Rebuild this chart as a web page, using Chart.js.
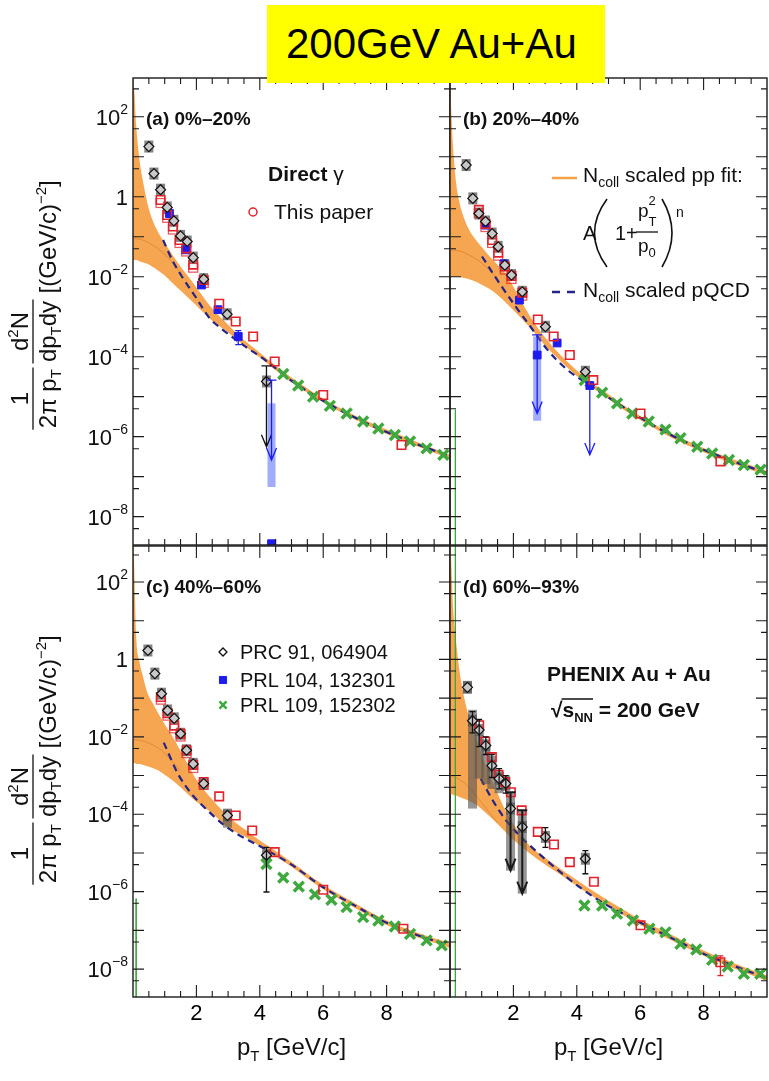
<!DOCTYPE html>
<html>
<head>
<meta charset="utf-8">
<script src="https://cdn.jsdelivr.net/npm/chart.js@4.4.1/dist/chart.umd.min.js"></script>
<style>
  body { margin: 0; background: #fff; }
  #wrap { position: relative; width: 769px; height: 1081px; overflow: hidden; background: #fff; }
  canvas { position: absolute; }
  #title {
    position: absolute; left: 267px; top: 5px; width: 338px; height: 78px;
    background: #ffff00; color: #000; z-index: 5; box-sizing: border-box; padding-left: 19px;
    font-family: "Liberation Sans", Arial, sans-serif; font-size: 42px; line-height: 78px;
  }
</style>
</head>
<body>
<div id="wrap">
  <canvas id="pa" width="451" height="486" style="left:0;top:60px"></canvas>
  <canvas id="pb" width="320" height="486" style="left:449px;top:60px"></canvas>
  <canvas id="pc" width="451" height="541" style="left:0;top:540px"></canvas>
  <canvas id="pd" width="320" height="541" style="left:449px;top:540px"></canvas>
  <div id="title">200GeV Au+Au</div>
</div>
<script>
// ---------- axes ----------
const xTickVals = [2, 4, 6, 8];
const yTickVals = [1e-8, 1e-6, 1e-4, 1e-2, 1, 1e2];
const yTickMant = ['10', '10', '10', '10', '1', '10'];
const yTickExp = ['\u22128', '\u22126', '\u22124', '\u22122', '', '2'];

// ---------- Ncoll scaled pp fit band (shared pT grid) ----------
const bandPt = [0, 0.02, 0.05, 0.1, 0.2, 0.3, 0.45, 0.6, 0.8, 1.0, 1.25, 1.5, 1.75, 2.0, 2.5, 3.0, 3.5, 4.0, 4.5, 5.0, 5.5, 6.0, 7.0, 8.0, 9.0, 10.0];
const bandHiA = [1e4, 1e3, 350, 62, 9.1, 2.8, 0.71, 0.28, 0.126, 7.1e-2, 3.5e-2, 1.8e-2, 1.0e-2, 5.4e-3, 1.6e-3, 6.3e-4, 2.6e-4, 1.26e-4, 6.0e-5, 3.0e-5, 1.6e-5, 8.9e-6, 3.4e-6, 1.5e-6, 7.1e-7, 3.5e-7];
const bandLoA = [2.6e-2, 2.6e-2, 2.6e-2, 2.6e-2, 2.45e-2, 2.3e-2, 2.1e-2, 1.8e-2, 1.4e-2, 1.07e-2, 6.9e-3, 4.5e-3, 2.95e-3, 1.9e-3, 7.9e-4, 4.0e-4, 1.9e-4, 9.5e-5, 4.6e-5, 2.3e-5, 1.26e-5, 7.1e-6, 2.7e-6, 1.17e-6, 5.6e-7, 2.8e-7];
const bandHiB = [1e4, 630, 100, 16, 2.0, 0.71, 0.28, 0.15, 8.7e-2, 5.5e-2, 3.2e-2, 2.0e-2, 1.2e-2, 5.6e-3, 1.1e-3, 3.0e-4, 1.07e-4, 4.5e-5, 2.2e-5, 1.15e-5, 5.9e-6, 3.3e-6, 1.2e-6, 5.2e-7, 2.6e-7, 1.38e-7];
const bandLoB = [1.0e-2, 1.0e-2, 1.0e-2, 1.0e-2, 1.0e-2, 9.8e-3, 9.3e-3, 8.7e-3, 7.6e-3, 6.3e-3, 4.9e-3, 3.5e-3, 2.3e-3, 1.45e-3, 5.6e-4, 1.9e-4, 7.6e-5, 3.3e-5, 1.66e-5, 8.7e-6, 4.6e-6, 2.6e-6, 9.3e-7, 4.1e-7, 2.0e-7, 1.07e-7];
const bandHiC = [1e4, 1e3, 100, 4.0, 0.89, 0.4, 0.14, 7.9e-2, 4.0e-2, 2.1e-2, 1.0e-2, 4.3e-3, 1.8e-3, 7.9e-4, 2.4e-4, 8.9e-5, 4.2e-5, 2.1e-5, 1.12e-5, 5.8e-6, 2.9e-6, 1.5e-6, 5.0e-7, 1.8e-7, 8.5e-8, 4.7e-8];
const bandLoC = [2.1e-3, 2.1e-3, 2.1e-3, 2.0e-3, 2.0e-3, 1.9e-3, 1.75e-3, 1.6e-3, 1.35e-3, 1.05e-3, 7.4e-4, 5.0e-4, 3.2e-4, 2.1e-4, 1.05e-4, 4.5e-5, 2.75e-5, 1.5e-5, 8.1e-6, 4.4e-6, 2.2e-6, 1.15e-6, 3.8e-7, 1.38e-7, 6.5e-8, 3.5e-8];
const bandHiD = [1e4, 1e3, 200, 20, 2.5, 0.5, 0.1, 3.2e-2, 1.05e-2, 3.5e-3, 1.0e-3, 3.5e-4, 1.26e-4, 5.6e-5, 1.58e-5, 7.6e-6, 3.8e-6, 2.0e-6, 1.05e-6, 5.8e-7, 3.3e-7, 1.9e-7, 7.6e-8, 3.0e-8, 1.38e-8, 6.8e-9];
const bandLoD = [3.3e-4, 3.3e-4, 3.3e-4, 3.2e-4, 3.0e-4, 2.8e-4, 2.5e-4, 2.2e-4, 1.8e-4, 1.35e-4, 8.9e-5, 5.6e-5, 3.5e-5, 2.2e-5, 1.0e-5, 5.0e-6, 2.7e-6, 1.4e-6, 7.6e-7, 4.2e-7, 2.4e-7, 1.38e-7, 5.5e-8, 2.2e-8, 1.0e-8, 4.9e-9];
// darker central line inside the band at low pT
const midPt = [0, 0.3, 0.6, 0.9, 1.2, 1.5];
const midA = [9.1e-2, 8.3e-2, 6.3e-2, 4.3e-2, 2.5e-2, 1.26e-2];
const midB = [4.7e-2, 4.4e-2, 3.5e-2, 2.5e-2, 1.6e-2, 8.9e-3];
const midC = [8.5e-3, 7.9e-3, 6.3e-3, 4.5e-3, 2.5e-3, 1.3e-3];
const midD = [1.0e-3, 7.9e-4, 5.0e-4, 2.5e-4, 1.2e-4, 6.0e-5];

// ---------- Ncoll scaled pQCD ----------
const pqcdPtA = [0.95, 1.26, 1.58, 2.0, 2.42, 2.79, 3.5, 4.2, 5, 6, 7, 8, 9, 10];
const pqcdA = [8.3e-2, 2.4e-2, 9.1e-3, 2.9e-3, 9.1e-4, 5.0e-4, 1.9e-4, 7.9e-5, 2.5e-5, 7.9e-6, 3.0e-6, 1.3e-6, 6.3e-7, 3.2e-7];
const pqcdPtB = [1.01, 1.49, 2.01, 2.54, 3.07, 3.7, 4.22, 5, 6, 7, 8, 9, 10];
const pqcdB = [3.2e-2, 8.3e-3, 2.1e-3, 5.6e-4, 1.5e-4, 4.7e-5, 2.4e-5, 9.5e-6, 3.0e-6, 1.07e-6, 4.7e-7, 2.3e-7, 1.23e-7];
const pqcdPtC = [0.97, 1.42, 1.84, 2.1, 2.95, 4.21, 5, 6, 7, 8, 9, 10];
const pqcdC = [7.1e-3, 1.1e-3, 3.4e-4, 2.0e-4, 4.7e-5, 1.2e-5, 5.0e-6, 1.3e-6, 4.35e-7, 1.57e-7, 7.4e-8, 4.05e-8];
const pqcdPtD = [0.97, 1.39, 1.81, 2.85, 4.54, 6, 7, 8, 9, 10];
const pqcdD = [8.3e-4, 2.0e-4, 6.3e-5, 8.9e-6, 7.2e-7, 1.6e-7, 6.3e-8, 2.5e-8, 1.17e-8, 5.8e-9];

// ---------- PRC 91, 064904 (black diamonds) ----------
const blackPtA = [0.5, 0.66, 0.87, 1.08, 1.29, 1.5, 1.71, 1.9, 2.23, 2.97, 4.21];
const blackA = [18, 3.8, 1.5, 0.54, 0.25, 0.105, 7.6e-2, 3.0e-2, 8.7e-3, 1.15e-3, 2.4e-5];
const blackPtB = [0.51, 0.72, 0.91, 1.12, 1.33, 1.52, 1.73, 1.94, 2.28, 3.01, 4.27];
const blackB = [6.2, 0.91, 0.38, 0.24, 0.12, 5.6e-2, 1.95e-2, 1.1e-2, 4.2e-3, 5.6e-4, 4.2e-5];
const blackPtC = [0.47, 0.69, 0.9, 1.09, 1.3, 1.5, 1.69, 1.9, 2.23, 2.98, 4.21];
const blackC = [1.7, 0.43, 0.13, 4.8e-2, 3.0e-2, 1.2e-2, 4.5e-3, 2.0e-3, 6.2e-4, 9.3e-5, 8.7e-6];
const blackPtD = [0.55, 0.71, 0.92, 1.13, 1.32, 1.55, 1.76, 1.91, 2.28, 3.01, 4.27];
const blackD = [0.19, 2.6e-2, 1.5e-2, 6.0e-3, 1.8e-3, 8.3e-4, 6.2e-4, 1.4e-4, 4.7e-5, 2.6e-5, 7.1e-6];

// ---------- This paper (red open squares) ----------
const redPtA = [0.87, 1.08, 1.26, 1.47, 1.68, 1.9, 2.23, 2.72, 3.24, 3.79, 4.47, 6.0, 8.47];
const redA = [0.83, 0.35, 0.18, 8.3e-2, 5.1e-2, 2.0e-2, 8.3e-3, 2.1e-3, 7.6e-4, 3.2e-4, 7.6e-5, 1.1e-5, 6.2e-7];
const redPtB = [0.91, 1.12, 1.33, 1.52, 1.73, 1.94, 2.28, 2.77, 3.27, 3.78, 4.52, 6.01, 8.53];
const redB = [0.47, 0.21, 8.3e-2, 4.0e-2, 1.8e-2, 1.05e-2, 4.0e-3, 8.5e-4, 3.2e-4, 1.1e-4, 2.6e-5, 3.8e-6, 2.4e-7];
const redPtC = [0.88, 1.09, 1.3, 1.5, 1.69, 1.9, 2.23, 2.72, 3.24, 3.76, 4.47, 6.0, 8.53];
const redC = [0.107, 4.1e-2, 1.95e-2, 1.2e-2, 4.5e-3, 1.9e-3, 6.8e-4, 2.9e-4, 9.3e-5, 3.8e-5, 1.05e-5, 1.12e-6, 1.1e-7];
const redPtD = [0.92, 1.11, 1.32, 1.53, 1.73, 1.92, 2.26, 2.77, 3.28, 3.78, 4.54, 6.01, 8.53];
const redD = [2.0e-2, 7.6e-3, 3.0e-3, 1.05e-3, 6.8e-4, 3.7e-4, 1.26e-4, 3.5e-5, 1.66e-5, 5.8e-6, 1.8e-6, 1.35e-7, 1.5e-8];
// systematic boxes of the low-pT red points [pT, high, low]
const redSysA = [[0.87, 0.9, 0.54], [1.08, 0.38, 0.23], [1.26, 0.195, 0.117], [1.47, 9.0e-2, 5.4e-2], [1.68, 5.5e-2, 3.3e-2], [1.9, 2.15e-2, 1.3e-2], [2.23, 9.0e-3, 5.4e-3]];
const redSysB = [[0.91, 0.5, 0.3], [1.12, 0.23, 0.135], [1.33, 9.0e-2, 5.4e-2], [1.52, 4.3e-2, 2.6e-2], [1.73, 1.95e-2, 1.17e-2], [1.94, 1.13e-2, 6.8e-3], [2.28, 4.3e-3, 2.6e-3]];
const redSysC = [[0.88, 0.115, 0.07], [1.09, 4.4e-2, 2.7e-2], [1.3, 2.1e-2, 1.27e-2], [1.5, 1.3e-2, 7.8e-3], [1.69, 4.8e-3, 2.9e-3], [1.9, 2.0e-3, 1.2e-3], [2.23, 7.3e-4, 4.4e-4]];

// ---------- PRL 104, 132301 (blue squares) ----------
const bluePtA = [1.15, 1.66, 2.16, 2.68, 3.32, 4.37];
const blueA = [0.38, 4.7e-2, 6.2e-3, 1.5e-3, 3.2e-4, 2.1e-9];
const bluePtB = [1.12, 1.7, 2.19, 2.75, 3.38, 4.41];
const blueB = [0.195, 2.1e-2, 2.6e-3, 1.1e-4, 2.2e-4, 1.9e-5];

// ---------- PRL 109, 152302 (green crosses) ----------
const greenPtA = [4.74, 5.21, 5.68, 6.21, 6.74, 7.26, 7.74, 8.26, 8.74, 9.26, 9.79];
const greenA = [3.7e-5, 1.9e-5, 1.0e-5, 5.9e-6, 3.8e-6, 2.4e-6, 1.6e-6, 1.1e-6, 7.6e-7, 5.1e-7, 3.5e-7];
const greenPtB = [4.25, 4.8, 5.27, 5.75, 6.27, 6.8, 7.27, 7.8, 8.27, 8.8, 9.27, 9.8];
const greenB = [2.6e-5, 1.26e-5, 6.8e-6, 3.8e-6, 2.4e-6, 1.5e-6, 9.1e-7, 5.6e-7, 3.8e-7, 2.6e-7, 1.95e-7, 1.5e-7];
const greenPtC = [4.21, 4.74, 5.23, 5.74, 6.26, 6.74, 7.26, 7.74, 8.26, 8.74, 9.26, 9.74];
const greenC = [5.2e-6, 2.3e-6, 1.35e-6, 8.5e-7, 6.2e-7, 4.0e-7, 2.2e-7, 1.8e-7, 1.26e-7, 8.1e-8, 5.5e-8, 4.1e-8];
const greenPtD = [4.24, 4.8, 5.27, 5.77, 6.29, 6.8, 7.27, 7.77, 8.27, 8.76, 9.27, 9.79];
const greenD = [4.4e-7, 4.4e-7, 2.7e-7, 1.8e-7, 1.1e-7, 8.9e-8, 4.5e-8, 3.2e-8, 1.74e-8, 1.17e-8, 7.6e-9, 7.6e-9];
// stray green error bar near pT ~ 0: [pT, top]
const greenLineB = [0.17, 4.7e-6];
const greenLineC = [0.1, 6.6e-7];
const greenLineD = [0.17, 1e3];

// ---------- error bars [pT, high, low], upper limits [pT, from, to] ----------
const blueErrA = [[3.32, 4.5e-4, 2.0e-4]];
const blackLimitA = [[4.21, 5.9e-5, 5.6e-7]];
const blueLimitA = [[4.37, 2.6e-5, 2.6e-7]];
const blueBandA = [[4.37, 6.8e-6, 5.5e-8]];
const blueLimitB = [[2.75, 3.5e-4, 3.8e-6], [4.41, 1.9e-5, 3.5e-7]];
const blueBandB = [[2.75, 3.2e-4, 2.5e-6]];
const blackErrC = [[4.21, 1.4e-5, 9.8e-7]];
const grayBoxC = [[2.98, 1.4e-4, 4.5e-5]];
const blackErrD = [[0.71, 4.5e-2, 1.26e-2], [0.92, 2.8e-2, 5.6e-3], [1.13, 1.0e-2, 3.5e-3], [1.32, 3.5e-3, 8.9e-4], [1.55, 1.5e-3, 4.5e-4], [1.76, 1.0e-3, 3.5e-4], [3.01, 4.5e-5, 1.4e-5], [4.27, 1.15e-5, 2.9e-6]];
const blackLimitD = [[1.91, 3.7e-4, 3.5e-6], [2.28, 1.26e-4, 8.9e-7]];
const grayBoxD = [[0.55, 0.28, 0.13], [0.71, 5.0e-2, 1.4e-4], [0.92, 1.1e-2, 8.3e-4], [1.13, 6.0e-3, 6.0e-4], [1.32, 3.2e-3, 4.5e-4], [1.55, 1.3e-3, 3.5e-4], [1.76, 1.0e-3, 4.0e-4], [1.91, 3.7e-4, 3.5e-6], [2.28, 1.26e-4, 8.9e-7]];
const redErrD = [[8.53, 2.2e-8, 6.8e-9]];

// ---------- styling ----------
const FAM = '"Liberation Sans", Arial, Helvetica, sans-serif';
const ORANGE = 'rgba(246,160,72,0.95)';
const NAVY = '#24248a';
const RED = '#e3232c';
const BLUE = '#1c1cf0';
const GREEN = '#3fa83f';
const INK = '#111';

function pts(xs, ys) { return xs.map((x, i) => ({ x: x, y: ys[i] })); }

function run(ctx, x, y, parts, draw) {
  let cx = x;
  for (const p of parts) {
    ctx.font = (p[3] ? 'bold ' : '') + p[1] + 'px ' + FAM;
    if (draw !== false) ctx.fillText(p[0], cx, y + (p[2] || 0));
    cx += ctx.measureText(p[0]).width;
  }
  return cx - x;
}

function marker(ctx, style, x, y, r, stroke, fill, lw) {
  ctx.save();
  ctx.strokeStyle = stroke; ctx.fillStyle = fill; ctx.lineWidth = lw;
  Chart.helpers.drawPoint(ctx, { pointStyle: style, radius: r, rotation: 0, borderWidth: lw }, x, y);
  ctx.restore();
}

function paren(ctx, x0, yTop, yBot, bulge) {
  ctx.beginPath();
  ctx.moveTo(x0, yTop);
  ctx.quadraticCurveTo(x0 + bulge, (yTop + yBot) / 2, x0, yBot);
  ctx.stroke();
}

// ---------- per panel text ----------
function textA(ctx, a) {
  ctx.fillStyle = INK;
  run(ctx, a.left + 135, a.top + 103, [['Direct', 21, 0, true], [' \u03b3', 21]]);
  ctx.strokeStyle = RED; ctx.lineWidth = 1.5;
  ctx.beginPath(); ctx.arc(a.left + 120, a.top + 134, 4, 0, Math.PI * 2); ctx.stroke();
  run(ctx, a.left + 141, a.top + 141, [['This paper', 21]]);
}

function textB(ctx, a) {
  const L = a.left, T = a.top;
  ctx.fillStyle = INK;
  ctx.strokeStyle = 'rgb(246,160,72)'; ctx.lineWidth = 2.5;
  ctx.beginPath(); ctx.moveTo(L + 102, T + 100); ctx.lineTo(L + 127, T + 100); ctx.stroke();
  run(ctx, L + 133, T + 104, [['N', 21], ['coll', 14, 5], [' scaled pp fit:', 21]]);
  // A (1 + pT^2/p0)^n
  run(ctx, L + 133, T + 162, [['A', 20]]);
  ctx.strokeStyle = INK; ctx.lineWidth = 1.6;
  paren(ctx, L + 157, T + 121, T + 189, -25);
  run(ctx, L + 165, T + 162, [['1+', 20]]);
  const wp = run(ctx, L + 188, T + 139, [['p', 19]]);
  run(ctx, L + 188 + wp, T + 127, [['2', 13]]);
  run(ctx, L + 188 + wp, T + 148, [['T', 13]]);
  ctx.lineWidth = 1.3;
  ctx.beginPath(); ctx.moveTo(L + 186, T + 154); ctx.lineTo(L + 208, T + 154); ctx.stroke();
  run(ctx, L + 188, T + 174, [['p', 19], ['0', 13, 5]]);
  ctx.lineWidth = 1.6;
  paren(ctx, L + 212, T + 121, T + 189, 20);
  run(ctx, L + 226, T + 139, [['n', 14]]);
  // pQCD entry
  ctx.strokeStyle = NAVY; ctx.lineWidth = 2.5;
  ctx.beginPath();
  ctx.moveTo(L + 102, T + 214); ctx.lineTo(L + 110, T + 214);
  ctx.moveTo(L + 117, T + 214); ctx.lineTo(L + 125, T + 214);
  ctx.stroke();
  run(ctx, L + 133, T + 219, [['N', 21], ['coll', 14, 5], [' scaled pQCD', 21]]);
}

function textC(ctx, a) {
  const L = a.left, T = a.top;
  marker(ctx, 'rectRot', L + 90, T + 106, 4, INK, '#fff', 1.3);
  marker(ctx, 'rect', L + 90, T + 134, 5, BLUE, BLUE, 1);
  marker(ctx, 'crossRot', L + 90, T + 159, 5, GREEN, GREEN, 2.5);
  ctx.fillStyle = INK;
  run(ctx, L + 107, T + 113, [['PRC 91, 064904', 20]]);
  run(ctx, L + 107, T + 141, [['PRL 104, 132301', 20]]);
  run(ctx, L + 107, T + 166, [['PRL 109, 152302', 20]]);
}

function textD(ctx, a) {
  const L = a.left, T = a.top;
  ctx.fillStyle = INK;
  run(ctx, L + 97, T + 135, [['PHENIX Au + Au', 21, 0, true]]);
  const w0 = run(ctx, L + 101, T + 171, [['\u221a', 21, 0, true]]);
  const w1 = run(ctx, L + 101 + w0, T + 171, [['s', 21, 0, true], ['NN', 13, 5, true]]);
  run(ctx, L + 101 + w0 + w1, T + 171, [[' = 200 GeV', 21, 0, true]]);
  ctx.strokeStyle = INK; ctx.lineWidth = 1.5;
  ctx.beginPath(); ctx.moveTo(L + 100 + w0, T + 153); ctx.lineTo(L + 101 + w0 + w1, T + 153); ctx.stroke();
}

function drawYTitle(ctx, cx, cy) {
  const F = 24, S = 15;
  const den1 = [['2\u03c0 p', F], ['T', S, 5]];
  const num1 = [['1', F]];
  const den2 = [['dp', F], ['T', S, 5], ['dy', F]];
  const num2 = [['d', F], ['2', S, -10], ['N', F]];
  const unit = [['[(GeV/c)', F], ['\u22122', S, -10], [']', F]];
  ctx.save();
  ctx.translate(cx, cy);
  ctx.rotate(-Math.PI / 2);
  ctx.fillStyle = INK;
  const wd1 = run(ctx, 0, 0, den1, false), wn1 = run(ctx, 0, 0, num1, false);
  const wd2 = run(ctx, 0, 0, den2, false), wn2 = run(ctx, 0, 0, num2, false);
  const wu = run(ctx, 0, 0, unit, false);
  const w1 = Math.max(wd1, wn1) + 3, w2 = Math.max(wd2, wn2) + 3, gap = 4, ugap = 6;
  let x = -(w1 + gap + w2 + ugap + wu) / 2;
  ctx.strokeStyle = INK; ctx.lineWidth = 1.3;
  ctx.beginPath();
  ctx.moveTo(x, 0); ctx.lineTo(x + w1, 0);
  ctx.moveTo(x + w1 + gap, 0); ctx.lineTo(x + w1 + gap + w2, 0);
  ctx.stroke();
  run(ctx, x + (w1 - wd1) / 2, 23, den1);
  run(ctx, x + (w1 - wn1) / 2, -5, num1);
  x += w1 + gap;
  run(ctx, x + (w2 - wd2) / 2, 23, den2);
  run(ctx, x + (w2 - wn2) / 2, -5, num2);
  x += w2 + ugap;
  run(ctx, x, 23, unit);
  ctx.restore();
}

// ---------- decoration config per canvas ----------
const decorCfg = {
  pa: { label: '(a) 0%\u201320%', yTitle: 227, text: textA, errs: [[blueErrA, BLUE]], limits: [[blackLimitA, INK, 1.3], [blueLimitA, BLUE, 1.3]], blueBands: blueBandA, grayBoxes: [], redSys: redSysA },
  pb: { label: '(b) 20%\u201340%', text: textB, errs: [], limits: [[blueLimitB, BLUE, 1.3]], blueBands: blueBandB, grayBoxes: [], redSys: redSysB },
  pc: { label: '(c) 40%\u201360%', yTitle: 214, xTitle: true, text: textC, errs: [[blackErrC, INK]], limits: [], blueBands: [], grayBoxes: grayBoxC, redSys: redSysC },
  pd: { label: '(d) 60%\u201393%', xTitle: true, text: textD, errs: [[blackErrD, INK], [redErrD, RED]], limits: [[blackLimitD, '#1a1a1a', 2]], blueBands: [], grayBoxes: grayBoxD, redSys: [] }
};

const decor = {
  id: 'decor',
  afterDatasetDraw(chart, args) {
    // systematic boxes sit above the band and pQCD, under the markers
    if (chart.data.datasets[args.index].kind !== 'pqcd') return;
    const cfg = decorCfg[chart.canvas.id];
    const { ctx, chartArea: a, scales: { x, y } } = chart;
    ctx.save();
    Chart.helpers.clipArea(ctx, a);
    chart.data.datasets.forEach((ds, i) => {
      if (ds.kind !== 'black') return;
      ctx.fillStyle = 'rgba(90,90,90,0.75)';
      chart.getDatasetMeta(i).data.forEach(pt => ctx.fillRect(pt.x - 4.5, pt.y - 6, 9, 12));
    });
    ctx.fillStyle = 'rgba(85,85,85,0.62)';
    cfg.grayBoxes.forEach(b => {
      const px = x.getPixelForValue(b[0]), p1 = y.getPixelForValue(b[1]), p2 = y.getPixelForValue(b[2]);
      ctx.fillRect(px - 4.5, p1, 9, p2 - p1);
    });
    ctx.fillStyle = 'rgba(70,90,255,0.5)';
    cfg.blueBands.forEach(b => {
      const px = x.getPixelForValue(b[0]), p1 = y.getPixelForValue(b[1]), p2 = y.getPixelForValue(b[2]);
      ctx.fillRect(px - 4, p1, 8, p2 - p1);
    });
    ctx.strokeStyle = 'rgba(227,35,44,0.75)'; ctx.lineWidth = 1.3;
    cfg.redSys.forEach(b => {
      const px = x.getPixelForValue(b[0]), p1 = y.getPixelForValue(b[1]), p2 = y.getPixelForValue(b[2]);
      ctx.strokeRect(px - 4.5, p1, 9, p2 - p1);
    });
    Chart.helpers.unclipArea(ctx);
    ctx.restore();
  },
  afterDatasetsDraw(chart) {
    const cfg = decorCfg[chart.canvas.id];
    const { ctx, chartArea: a, scales: { x, y } } = chart;
    ctx.save();
    Chart.helpers.clipArea(ctx, a);
    cfg.errs.forEach(([list, color]) => {
      ctx.strokeStyle = color; ctx.lineWidth = 1.3;
      list.forEach(e => {
        const px = x.getPixelForValue(e[0]), p1 = y.getPixelForValue(e[1]), p2 = y.getPixelForValue(e[2]);
        ctx.beginPath();
        ctx.moveTo(px, p1); ctx.lineTo(px, p2);
        ctx.moveTo(px - 3, p1); ctx.lineTo(px + 3, p1);
        ctx.moveTo(px - 3, p2); ctx.lineTo(px + 3, p2);
        ctx.stroke();
      });
    });
    cfg.limits.forEach(([list, color, lw]) => {
      ctx.strokeStyle = color; ctx.lineWidth = lw;
      list.forEach(e => {
        const px = x.getPixelForValue(e[0]), p1 = y.getPixelForValue(e[1]), p2 = y.getPixelForValue(e[2]);
        ctx.beginPath();
        ctx.moveTo(px - 5, p1); ctx.lineTo(px + 5, p1);
        ctx.moveTo(px, p1); ctx.lineTo(px, p2);
        ctx.moveTo(px - 5, p2 - 12); ctx.lineTo(px, p2); ctx.lineTo(px + 5, p2 - 12);
        ctx.stroke();
      });
    });
    Chart.helpers.unclipArea(ctx);
    ctx.restore();
  },
  afterDraw(chart) {
    const cfg = decorCfg[chart.canvas.id];
    const { ctx, chartArea: a, scales: { x, y } } = chart;
    ctx.save();
    // frame
    ctx.strokeStyle = '#1a1a1a'; ctx.lineWidth = 1.4;
    ctx.strokeRect(a.left, a.top, a.right - a.left, a.bottom - a.top);
    // inward ticks on all four sides
    ctx.lineWidth = 1.1;
    ctx.beginPath();
    for (let k = 1; k < 20; k++) {
      const v = k / 2, px = x.getPixelForValue(v), len = (k % 4 === 0) ? 12 : 6;
      ctx.moveTo(px, a.bottom); ctx.lineTo(px, a.bottom - len);
      ctx.moveTo(px, a.top); ctx.lineTo(px, a.top + len);
    }
    for (let e = -9; e <= 3; e++) {
      [[Math.pow(10, e), 11], [5 * Math.pow(10, e), 6]].forEach(([v, len]) => {
        if (v <= y.min || v >= y.max) return;
        const py = y.getPixelForValue(v);
        ctx.moveTo(a.left, py); ctx.lineTo(a.left + len, py);
        ctx.moveTo(a.right, py); ctx.lineTo(a.right - len, py);
      });
    }
    ctx.stroke();
    ctx.fillStyle = INK;
    // y tick labels (left column)
    if (cfg.yTitle !== undefined) {
      yTickVals.forEach((v, i) => {
        const py = y.getPixelForValue(v);
        const parts = [[yTickMant[i], 22]];
        if (yTickExp[i]) parts.push([yTickExp[i], 14, -11]);
        const w = run(ctx, 0, 0, parts, false);
        run(ctx, a.left - 5 - w, py + 8, parts);
      });
      drawYTitle(ctx, a.left - 100, a.top + cfg.yTitle);
    }
    if (cfg.xTitle) {
      const parts = [['p', 24], ['T', 15, 6], [' [GeV/c]', 24]];
      const w = run(ctx, 0, 0, parts, false);
      run(ctx, (a.left + a.right) / 2 - w / 2, a.bottom + 58, parts);
    }
    run(ctx, a.left + 13, a.top + 47, [[cfg.label, 19, 0, true]]);
    cfg.text(ctx, a);
    ctx.restore();
  }
};

function makePanel(id, p) {
  const datasets = [
    { type: 'line', data: pts(bandPt, p.hi), borderColor: 'rgba(0,0,0,0)', borderWidth: 0, pointRadius: 0, fill: false, order: 30, cubicInterpolationMode: 'monotone' },
    { type: 'line', data: pts(bandPt, p.lo), borderColor: 'rgba(0,0,0,0)', borderWidth: 0, pointRadius: 0, fill: '-1', backgroundColor: ORANGE, order: 29, cubicInterpolationMode: 'monotone' },
    { type: 'line', data: pts(midPt, p.mid), borderColor: 'rgba(205,112,30,0.5)', borderWidth: 1, pointRadius: 0, fill: false, order: 28, cubicInterpolationMode: 'monotone' },
    { type: 'line', kind: 'pqcd', data: pts(p.qPt, p.q), borderColor: NAVY, borderWidth: 2.2, borderDash: [7, 5], pointRadius: 0, fill: false, order: 20, cubicInterpolationMode: 'monotone' },
    { kind: 'green', data: pts(p.gPt, p.g), pointStyle: 'crossRot', pointRadius: 7, pointBorderWidth: 3.5, pointBorderColor: GREEN, pointBackgroundColor: GREEN, order: 6 },
    { kind: 'red', data: pts(p.rPt, p.r), pointStyle: 'rect', pointRadius: 6, pointBorderWidth: 1.6, pointBorderColor: RED, pointBackgroundColor: 'rgba(0,0,0,0)', order: 4 },
    { kind: 'black', data: pts(p.kPt, p.k), pointStyle: 'rectRot', pointRadius: 5, pointBorderWidth: 1.2, pointBorderColor: INK, pointBackgroundColor: '#c8c8c8', order: 3 }
  ];
  if (p.bPt) datasets.push({ kind: 'blue', data: pts(p.bPt, p.b), pointStyle: 'rect', pointRadius: 5.5, pointBorderWidth: 1, pointBorderColor: BLUE, pointBackgroundColor: BLUE, order: 5 });
  if (p.gl) datasets.push({ type: 'line', data: [{ x: p.gl[0], y: p.gl[1] }, { x: p.gl[0], y: 1e-10 }], borderColor: GREEN, borderWidth: 1, pointRadius: 0, fill: false, order: 27 });

  return new Chart(document.getElementById(id), {
    type: 'scatter',
    data: { datasets: datasets },
    plugins: [decor],
    options: {
      responsive: false,
      animation: false,
      devicePixelRatio: 1,
      layout: { padding: p.pad, autoPadding: false },
      plugins: { legend: { display: false }, tooltip: { enabled: false } },
      scales: {
        x: {
          type: 'linear', min: 0, max: 10, display: p.showX,
          grid: { display: false, drawTicks: false }, border: { display: false },
          ticks: { color: '#000', font: { size: 22, family: FAM }, padding: 4, maxRotation: 0, autoSkip: false },
          afterBuildTicks: s => { s.ticks = xTickVals.map(v => ({ value: v })); },
          afterFit: s => { s.height = p.showX ? 84 : 0; }
        },
        y: {
          type: 'logarithmic', min: p.yMin, max: p.yMax, display: p.showY,
          grid: { display: false, drawTicks: false }, border: { display: false },
          ticks: { display: false },
          afterFit: s => { s.width = p.showY ? 133 : 0; }
        }
      }
    }
  });
}

makePanel('pa', { hi: bandHiA, lo: bandLoA, mid: midA, qPt: pqcdPtA, q: pqcdA, gPt: greenPtA, g: greenA, rPt: redPtA, r: redA, kPt: blackPtA, k: blackA, bPt: bluePtA, b: blueA,
  yMin: 1.95e-9, yMax: 933, showX: false, showY: true, pad: { left: 0, right: 1, top: 18, bottom: 1 } });
makePanel('pb', { hi: bandHiB, lo: bandLoB, mid: midB, qPt: pqcdPtB, q: pqcdB, gPt: greenPtB, g: greenB, rPt: redPtB, r: redB, kPt: blackPtB, k: blackB, bPt: bluePtB, b: blueB, gl: greenLineB,
  yMin: 1.95e-9, yMax: 933, showX: false, showY: false, pad: { left: 1, right: 2, top: 18, bottom: 1 } });
makePanel('pc', { hi: bandHiC, lo: bandLoC, mid: midC, qPt: pqcdPtC, q: pqcdC, gPt: greenPtC, g: greenC, rPt: redPtC, r: redC, kPt: blackPtC, k: blackC, gl: greenLineC,
  yMin: 1.9e-9, yMax: 851, showX: true, showY: true, pad: { left: 0, right: 1, top: 6, bottom: 0 } });
makePanel('pd', { hi: bandHiD, lo: bandLoD, mid: midD, qPt: pqcdPtD, q: pqcdD, gPt: greenPtD, g: greenD, rPt: redPtD, r: redD, kPt: blackPtD, k: blackD, gl: greenLineD,
  yMin: 1.9e-9, yMax: 851, showX: true, showY: false, pad: { left: 1, right: 2, top: 6, bottom: 0 } });
</script>
</body>
</html>
